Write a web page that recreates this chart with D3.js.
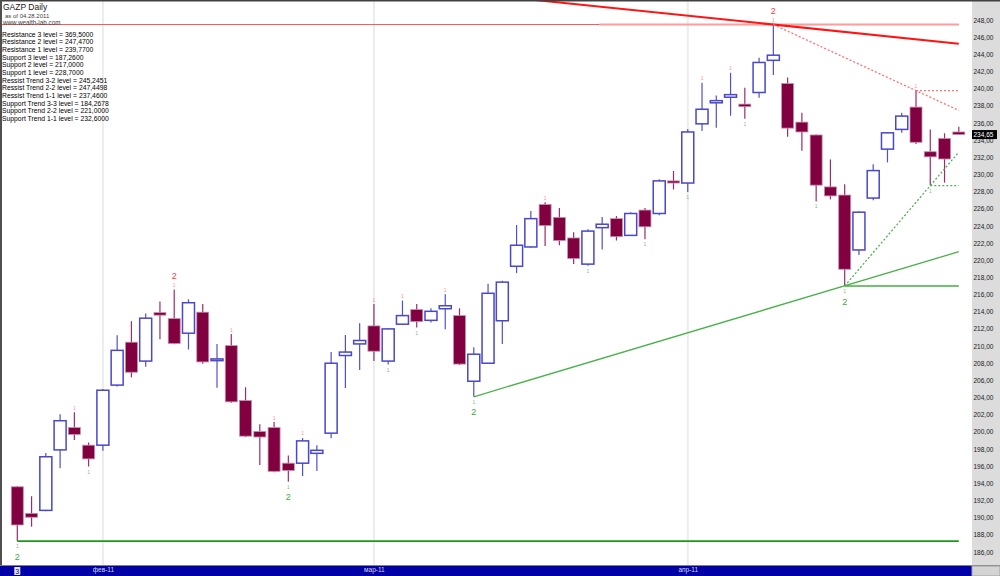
<!DOCTYPE html>
<html>
<head>
<meta charset="utf-8">
<script src="https://cdn.jsdelivr.net/npm/d3@7"></script>
<style>
  body { margin: 0; background: #ffffff; }
  text { font-family: "Liberation Sans", Arial, sans-serif; }
</style>
</head>
<body>
<script>
const width = 1000;
const height = 576;

// trading days shown on the chart (24 jan .. 28 apr 2011)
const dates = [
  "2011-01-24","2011-01-25","2011-01-26","2011-01-27","2011-01-28","2011-01-31",
  "2011-02-01","2011-02-02","2011-02-03","2011-02-04","2011-02-07","2011-02-08","2011-02-09","2011-02-10","2011-02-11",
  "2011-02-14","2011-02-15","2011-02-16","2011-02-17","2011-02-18","2011-02-21","2011-02-22","2011-02-24","2011-02-25","2011-02-28",
  "2011-03-01","2011-03-02","2011-03-03","2011-03-04","2011-03-05","2011-03-09","2011-03-10","2011-03-11",
  "2011-03-14","2011-03-15","2011-03-16","2011-03-17","2011-03-18","2011-03-21","2011-03-22","2011-03-23","2011-03-24","2011-03-25",
  "2011-03-28","2011-03-29","2011-03-30","2011-03-31",
  "2011-04-01","2011-04-04","2011-04-05","2011-04-06","2011-04-07","2011-04-08","2011-04-11","2011-04-12","2011-04-13","2011-04-14","2011-04-15",
  "2011-04-18","2011-04-19","2011-04-20","2011-04-21","2011-04-22","2011-04-25","2011-04-26","2011-04-27","2011-04-28"
];

//OHLC
const opens  = [193.6,190.5,190.85,197.9,200.5,198.45,198.45,205.45,210.45,208.25,213.9,213.2,211.5,213.95,208.3,210.05,203.65,200.05,200.5,196.35,196.35,197.5,199.85,208.9,210.25,212.35,208.25,212.55,214.25,213.0,214.35,213.55,205.9,208.0,212.95,219.3,221.55,226.5,225.0,222.6,219.55,223.8,224.85,222.9,225.85,225.45,229.25,229.0,235.9,238.35,239.0,238.2,239.55,243.3,240.6,236.1,234.6,228.55,227.6,221.2,227.25,232.95,235.25,237.85,232.65,234.2,234.95];
const highs  = [193.7,192.5,197.55,202.05,202.3,198.75,205.0,211.25,212.9,213.8,215.2,216.6,215.45,214.9,210.25,211.4,205.2,200.9,201.15,197.25,199.3,198.45,209.3,211.3,212.65,214.9,212.1,215.3,214.9,214.4,216.05,214.4,209.85,217.25,217.6,224.1,225.75,226.75,226.1,223.25,223.6,225.05,225.15,225.6,226.1,229.45,230.4,235.3,240.7,239.2,241.85,240.1,243.6,247.47,241.3,237.2,234.65,231.75,228.85,225.7,231.2,234.95,237.2,239.77,235.25,234.8,235.55];
const lows   = [187.26,188.95,190.75,195.75,199.05,195.95,197.8,205.3,206.35,207.6,210.8,210.2,209.6,207.95,205.15,203.4,199.4,196.15,195.3,194.2,194.85,195.45,199.25,205.1,207.2,208.25,207.85,212.45,212.15,212.75,211.95,207.8,204.09,207.95,210.25,218.5,221.45,221.65,221.75,219.55,219.35,221.25,222.3,222.85,222.45,225.25,228.25,227.95,235.05,235.45,236.85,236.5,238.95,241.6,234.4,232.75,226.85,227.1,217.0,220.6,227.0,231.4,234.85,233.55,228.7,229.05,234.6];
const closes = [189.15,190.05,197.1,201.3,199.7,196.85,204.85,209.5,206.95,213.25,213.6,210.3,215.05,208.15,208.5,203.5,199.5,199.4,195.4,195.5,198.95,197.85,208.0,209.3,210.65,209.4,212.0,213.55,212.85,214.05,214.7,207.9,209.05,216.15,217.45,221.75,224.85,224.05,222.3,220.2,223.4,224.2,222.75,225.45,223.9,229.25,229.0,234.95,237.6,238.6,239.3,237.9,243.05,243.9,235.4,234.95,228.75,227.5,218.95,225.6,230.45,234.85,236.8,233.75,232.05,231.8,234.65];

// swing marks: bar index lists
const highMarks1 = [4, 11, 15, 18, 20, 25, 27, 30, 37, 48, 50, 53, 63];
const highMarks2 = [11, 53];
const lowMarks1  = [0, 5, 19, 26, 28, 32, 40, 44, 47, 51, 56, 58, 64];
const lowMarks2  = [0, 19, 32, 58];

// levels listed in the top-left box
const levelNames = ["Resistance 3 level","Resistance 2 level","Resistance 1 level","Support 3 level","Support 2 level","Support 1 level",
  "Ressist Trend 3-2 level","Ressist Trend 2-2 level","Ressist Trend 1-1 level","Support Trend 3-3 level","Support Trend 2-2 level","Support Trend 1-1 level"];
const levelValues = [369.5, 247.47, 239.77, 187.26, 217.0, 228.7, 245.2451, 247.4498, 237.46, 184.2678, 221.0, 232.6];

// axis labels
const monthTicks = ["2011-02-01", "2011-03-01", "2011-04-01"];
const monthLabels = ["фев-11", "мар-11", "апр-11"];
const firstDayLabel = "3";
const yTicks = d3.range(186, 249, 2);
const lastPrice = 234.65;

const plotRight = 972;
const plotBottom = 565;

const svg = d3.select("body").append("svg")
    .attr("width", width)
    .attr("height", height);

const x = d3.scalePoint().domain(dates).range([17.3, 958.8]);
const y = d3.scaleLinear().domain([186, 248]).range([552, 20]);
const xi = i => x(dates[i]);
const bodyW = 12;

//Vertical month grid lines
svg.selectAll(".grid").data(monthTicks).enter().append("line")
    .attr("x1", d => x(d)).attr("x2", d => x(d))
    .attr("y1", 0).attr("y2", plotBottom)
    .attr("stroke", "#ececec")
    .attr("stroke-width", 2);

//Candles
const bars = dates.map((d, i) => ({ i: i, o: opens[i], h: highs[i], l: lows[i], c: closes[i] }));

const candle = svg.selectAll(".candle").data(bars).enter().append("g");

candle.append("line")
    .attr("x1", d => xi(d.i)).attr("x2", d => xi(d.i))
    .attr("y1", d => y(d.h)).attr("y2", d => y(d.l))
    .attr("stroke", d => d.c >= d.o ? "#5050c8" : "#9a2d68")
    .attr("stroke-width", 1.2);

candle.append("rect")
    .attr("x", d => xi(d.i) - bodyW / 2)
    .attr("y", d => y(Math.max(d.o, d.c)))
    .attr("width", bodyW)
    .attr("height", d => Math.max(1.5, Math.abs(y(d.o) - y(d.c))))
    .attr("fill", d => d.c >= d.o ? "#ffffff" : "#800040")
    .attr("stroke", d => d.c >= d.o ? "#4848c8" : "#c890ae")
    .attr("stroke-width", d => d.c >= d.o ? 1.5 : 0.8);

//Level lines and trend lines
function hLine(v, i1, i2, color, w, dash, xStart) {
    svg.append("line")
        .attr("x1", xStart !== undefined ? xStart : xi(i1))
        .attr("x2", xi(i2))
        .attr("y1", y(v)).attr("y2", y(v))
        .attr("stroke", color)
        .attr("stroke-width", w)
        .attr("stroke-dasharray", dash);
}
function tLine(i1, v1, i2, v2, color, w, dash) {
    svg.append("line")
        .attr("x1", xi(i1)).attr("y1", y(v1))
        .attr("x2", xi(i2)).attr("y2", y(v2))
        .attr("stroke", color)
        .attr("stroke-width", w)
        .attr("stroke-dasharray", dash);
}
const last = dates.length - 1;

// resistance 2 (thin full width + light overlay)
hLine(levelValues[1], 0, last, "#e85a5a", 1, null, 0);
hLine(levelValues[1], 41, last, "#ff9c9c", 2, null, xi(41) - 3);
// resistance 1
hLine(levelValues[2], 63, last, "#ff7070", 1.3, "2,2");
// support 3, 2, 1
hLine(levelValues[3], 0, last, "#1a9a1a", 1.8, null);
hLine(levelValues[4], 58, last, "#40b040", 1.5, null);
hLine(levelValues[5], 64, last, "#50b050", 1.3, "2,2");

// ressist trend 3-2 : through the peak, extended left past the top edge
const slope32 = (levelValues[6] - highs[53]) / (last - 53);
tLine(30, highs[53] + slope32 * (30 - 53), last, levelValues[6], "#ff1414", 2, null);
// ressist trend 2-2 / 1-1 (dotted)
tLine(53, highs[53], last, levelValues[8], "#ff7070", 1.3, "2,2");
// support trend 2-2
tLine(32, lows[32], last, levelValues[10], "#4cb04c", 1.3, null);
// support trend 1-1 (dotted)
tLine(58, lows[58], last, levelValues[11], "#50b050", 1.3, "2,2");

//Swing labels
function marks(list, isHigh, txt, size, color, off) {
    svg.selectAll(null).data(list).enter().append("text")
        .attr("x", i => xi(i))
        .attr("y", i => (isHigh ? y(highs[i]) : y(lows[i])) + off)
        .attr("text-anchor", "middle")
        .attr("dominant-baseline", "central")
        .style("font-size", size + "px")
        .style("fill", color)
        .text(txt);
}
marks(highMarks1, true, "1", 5, "#ff9090", -4.5);
marks(highMarks2, true, "2", 9, "#ff4040", -13.5);
marks(lowMarks1, false, "1", 5, "#80c080", 5);
marks(lowMarks2, false, "2", 9, "#40a840", 15.5);

//Title and level texts
svg.append("text").attr("x", 3).attr("y", 10).text("GAZP Daily")
    .style("font-size", "8.5px").style("fill", "#202020");
svg.append("text").attr("x", 5).attr("y", 17.5).text("as of 04.28.2011")
    .style("font-size", "6px").style("fill", "#404040");
svg.append("text").attr("x", 3).attr("y", 25).text("www.wealth-lab.com")
    .style("font-size", "6.3px").style("fill", "#404040");

svg.selectAll(".lvl").data(levelNames).enter().append("text")
    .attr("x", 2)
    .attr("y", (d, i) => 36.8 + i * 7.64)
    .style("font-size", "6.8px")
    .style("fill", "#000000")
    .text((d, i) => d + " = " + levelValues[i].toFixed(4).replace(".", ","));

//Right axis panel
svg.append("rect")
    .attr("x", plotRight).attr("y", 0)
    .attr("width", width - plotRight).attr("height", height)
    .attr("fill", "#dcdcdc");

const yAxis = svg.append("g")
    .attr("transform", `translate(${plotRight}, 0)`)
    .call(d3.axisRight(y).tickValues(yTicks).tickSize(0).tickPadding(1.5)
        .tickFormat(d => d.toFixed(2).replace(".", ",")));
yAxis.select(".domain").remove();
yAxis.selectAll("text")
    .style("font-size", "6.5px")
    .style("fill", "#202020")
    .style("font-family", "'Liberation Sans', Arial, sans-serif");

// last price box
svg.append("rect")
    .attr("x", plotRight).attr("y", y(lastPrice) - 4.5)
    .attr("width", 25).attr("height", 9)
    .attr("fill", "#000000");
svg.append("text")
    .attr("x", plotRight + 1.5).attr("y", y(lastPrice))
    .attr("dominant-baseline", "central")
    .style("font-size", "6.5px").style("fill", "#ffffff")
    .text(lastPrice.toFixed(2).replace(".", ","));

//Bottom date axis
svg.append("line")
    .attr("x1", 0).attr("x2", width)
    .attr("y1", plotBottom + 0.5).attr("y2", plotBottom + 0.5)
    .attr("stroke", "#808080");
svg.append("rect")
    .attr("x", 0).attr("y", plotBottom + 1)
    .attr("width", plotRight).attr("height", height - plotBottom - 1)
    .attr("fill", "#0000a4");
svg.append("rect")
    .attr("x", plotRight).attr("y", plotBottom + 1)
    .attr("width", width - plotRight).attr("height", height - plotBottom - 1)
    .attr("fill", "#d4d4d4")
    .attr("stroke", "#a0a0a0");

const xAxis = svg.append("g")
    .attr("transform", `translate(0, ${plotBottom + 1})`)
    .call(d3.axisBottom(x).tickValues(monthTicks).tickSize(0).tickPadding(1.5)
        .tickFormat((d, i) => monthLabels[i]));
xAxis.select(".domain").remove();
xAxis.selectAll("text")
    .style("font-size", "6.5px")
    .style("fill", "#d8d8e8")
    .style("font-family", "'Liberation Sans', Arial, sans-serif");

svg.append("rect")
    .attr("x", xi(0) - 3).attr("y", plotBottom + 2)
    .attr("width", 6).attr("height", 8)
    .attr("fill", "#e8e8f0");
svg.append("text")
    .attr("x", xi(0)).attr("y", plotBottom + 6)
    .attr("text-anchor", "middle")
    .attr("dominant-baseline", "central")
    .style("font-size", "7px").style("fill", "#0000a4")
    .text(firstDayLabel);

//Frame
svg.append("line").attr("x1", 0).attr("x2", width).attr("y1", 0.75).attr("y2", 0.75)
    .attr("stroke", "#404040").attr("stroke-width", 1.5);
svg.append("line").attr("x1", 1).attr("x2", 1).attr("y1", 0).attr("y2", plotBottom)
    .attr("stroke", "#505050").attr("stroke-width", 2);
</script>
</body>
</html>
